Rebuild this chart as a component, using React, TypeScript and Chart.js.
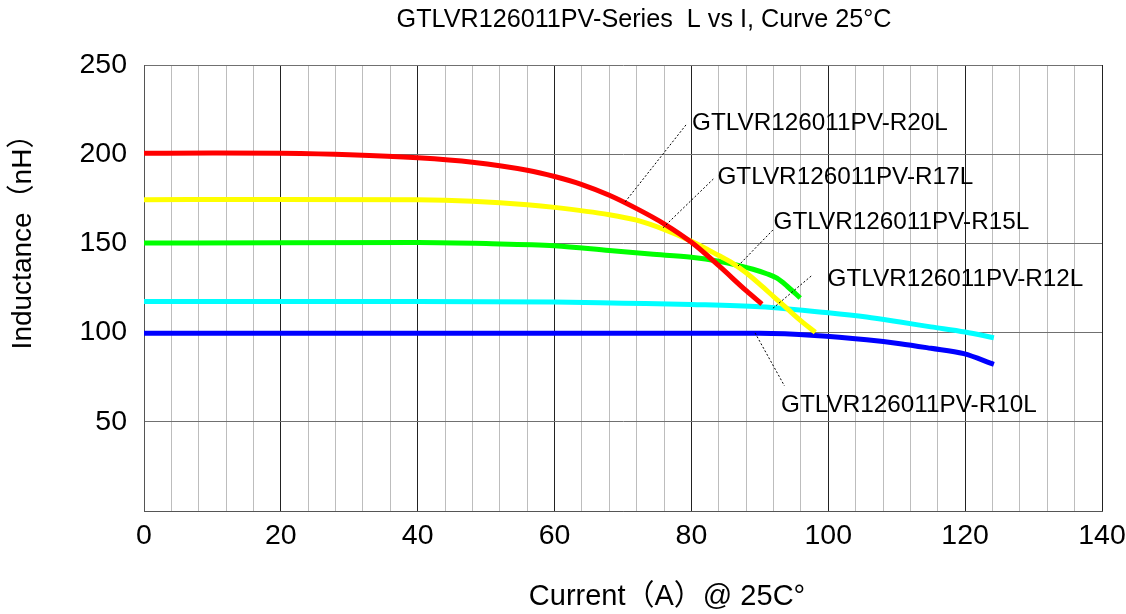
import React, { useEffect, useRef } from "react";
import { Chart, registerables } from "chart.js";

Chart.register(...registerables);

const chartTitle = "GTLVR126011PV-Series  L vs I, Curve 25°C";
const xTitle = "Current（A）@ 25C°";
const yTitle = "Inductance（nH）";

const seriesNames = [
  "GTLVR126011PV-R20L",
  "GTLVR126011PV-R17L",
  "GTLVR126011PV-R15L",
  "GTLVR126011PV-R12L",
  "GTLVR126011PV-R10L",
];
const seriesColors = ["#ff0000", "#ffff00", "#00ff00", "#00ffff", "#0000ff"];

const xR20 = [0, 10, 20, 30, 40, 48, 56, 60, 64, 68, 72, 76, 80, 84, 88, 90.3];
const yR20 = [200.5, 200.7, 200.5, 199.7, 198, 195.5, 191, 187.5, 183, 177, 169.5, 161, 150.6, 137.5, 123.5, 116];

const xR17 = [0, 20, 40, 48, 56, 60, 68, 72, 76, 80, 84, 86, 88, 90, 92, 94, 96, 98.1];
const yR17 = [174.5, 174.6, 174.4, 173.6, 171.7, 170.2, 166.1, 163, 157.8, 151.2, 143.2, 139, 133.5, 127, 120.2, 113.4, 106.6, 100.2];

const xR15 = [0, 20, 40, 50, 60, 68, 74, 80, 84, 87, 89, 91, 92.5, 94, 95.9];
const yR15 = [150.2, 150.4, 150.5, 149.9, 148.7, 146, 144, 142.2, 140, 137.5, 135.5, 133, 130.5, 126, 119.4];

const xR12 = [0, 20, 40, 60, 70, 80, 90, 100, 105.6, 110.5, 115, 120, 124.2];
const yR12 = [117.4, 117.4, 117.5, 117.2, 116.5, 115.8, 114.5, 111.1, 108.7, 105.9, 103.2, 100.3, 97.1];

const xR10 = [0, 20, 40, 60, 80, 90, 98, 105.6, 110.5, 115, 119.8, 124.2];
const yR10 = [99.6, 99.6, 99.6, 99.6, 99.7, 99.6, 98.4, 96, 93.8, 91.2, 88.2, 82.2];

const seriesX = [xR20, xR17, xR15, xR12, xR10];
const seriesY = [yR20, yR17, yR15, yR12, yR10];

// callout labels (data units)
const labelX = [80.1, 83.8, 92.0, 99.9, 93.1];
const labelY = [217.5, 187.2, 162, 130, 59.4];
const leaderFromX = [79.2, 83.2, 91.9, 97.5, 89.3];
const leaderFromY = [216.4, 186.1, 157.5, 131.7, 99.8];
const leaderToX = [70.3, 75.8, 86.8, 91.9, 93.6];
const leaderToY = [173.2, 158.6, 137.3, 113.6, 70.1];

const X_MIN = 0, X_MAX = 140, X_STEP = 4, X_MAJOR = 20;
const Y_MIN = 0, Y_MAX = 250, Y_STEP = 50;

const FONT = "'Liberation Sans', Arial, sans-serif";

const overlayPlugin = {
  id: "overlay",
  afterDatasetsDraw(chart: any) {
    const ctx = chart.ctx;
    const xs = chart.scales.x;
    const ys = chart.scales.y;
    ctx.save();
    for (let i = 0; i < seriesNames.length; i++) {
      ctx.beginPath();
      ctx.setLineDash([2, 2]);
      ctx.strokeStyle = "#000";
      ctx.lineWidth = 1;
      ctx.moveTo(xs.getPixelForValue(leaderFromX[i]), ys.getPixelForValue(leaderFromY[i]));
      ctx.lineTo(xs.getPixelForValue(leaderToX[i]), ys.getPixelForValue(leaderToY[i]));
      ctx.stroke();
      ctx.setLineDash([]);
      ctx.fillStyle = "#000";
      ctx.font = `24.3px ${FONT}`;
      ctx.textAlign = "left";
      ctx.textBaseline = "middle";
      ctx.fillText(seriesNames[i], xs.getPixelForValue(labelX[i]), ys.getPixelForValue(labelY[i]));
    }
    ctx.restore();
  },
  afterDraw(chart: any) {
    const ctx = chart.ctx;
    ctx.save();
    ctx.fillStyle = "#000";
    ctx.textAlign = "center";
    ctx.textBaseline = "middle";
    ctx.font = `25.2px ${FONT}`;
    ctx.fillText(chartTitle, 644, 20);
    ctx.font = `29px ${FONT}, 'Noto Sans CJK SC'`;
    ctx.fillText(xTitle, 667, 597);
    ctx.font = `28px ${FONT}, 'Noto Sans CJK SC'`;
    ctx.translate(23, 235);
    ctx.rotate(-Math.PI / 2);
    ctx.fillText(yTitle, 0, 0);
    ctx.restore();
  },
};

export default function App() {
  const ref = useRef<HTMLCanvasElement | null>(null);
  useEffect(() => {
    document.body.style.margin = "0";
    const canvas = ref.current;
    if (!canvas) return;
    const chart = new Chart(canvas, {
      type: "line",
      data: {
        datasets: seriesNames.map((name, i) => ({
          label: name,
          data: seriesX[i].map((x, j) => ({ x, y: seriesY[i][j] })),
          borderColor: seriesColors[i],
          backgroundColor: seriesColors[i],
          borderWidth: 5,
          pointRadius: 0,
          cubicInterpolationMode: "monotone" as const,
          fill: false,
          clip: false as any,
        })),
      },
      options: {
        animation: false,
        responsive: false,
        layout: { padding: { top: 65, right: 24, left: 0, bottom: 0 } },
        plugins: { legend: { display: false }, title: { display: false }, tooltip: { enabled: false } },
        scales: {
          x: {
            type: "linear",
            min: X_MIN,
            max: X_MAX,
            afterFit: (s: any) => {
              s.height = 103;
              s.paddingLeft = 0;
              s.paddingRight = 0;
            },
            afterBuildTicks: (s: any) => {
              const t = [];
              for (let v = X_MIN; v <= X_MAX; v += X_STEP) t.push({ value: v });
              s.ticks = t;
            },
            ticks: {
              autoSkip: false,
              maxRotation: 0,
              padding: 8,
              color: "#000",
              font: { family: FONT, size: 28.5 },
              callback: (v: any) => (Number(v) % X_MAJOR === 0 ? String(v) : ""),
            },
            grid: {
              drawTicks: false,
              lineWidth: 1,
              color: (c: any) => {
                const v = c.tick ? c.tick.value : 0;
                if (v === X_MIN) return "#555";
                return v % X_MAJOR === 0 ? "#222" : "#bdbdbd";
              },
            },
            border: { display: true, color: "#555", width: 1 },
          },
          y: {
            type: "linear",
            min: Y_MIN,
            max: Y_MAX,
            afterFit: (s: any) => {
              s.width = 144;
              s.paddingTop = 0;
              s.paddingBottom = 0;
            },
            ticks: {
              stepSize: Y_STEP,
              padding: 17,
              color: "#000",
              font: { family: FONT, size: 28.5 },
              callback: (v: any) => (Number(v) === 0 ? "" : String(v)),
            },
            grid: { drawTicks: false, color: "#707070", lineWidth: 1 },
            border: { display: true, color: "#555", width: 1 },
          },
        },
      },
      plugins: [overlayPlugin],
    });
    return () => chart.destroy();
  }, []);
  return (
    <div style={{ width: 1126, height: 614 }}>
      <canvas ref={ref} width={1126} height={614} style={{ display: "block" }} />
    </div>
  );
}
